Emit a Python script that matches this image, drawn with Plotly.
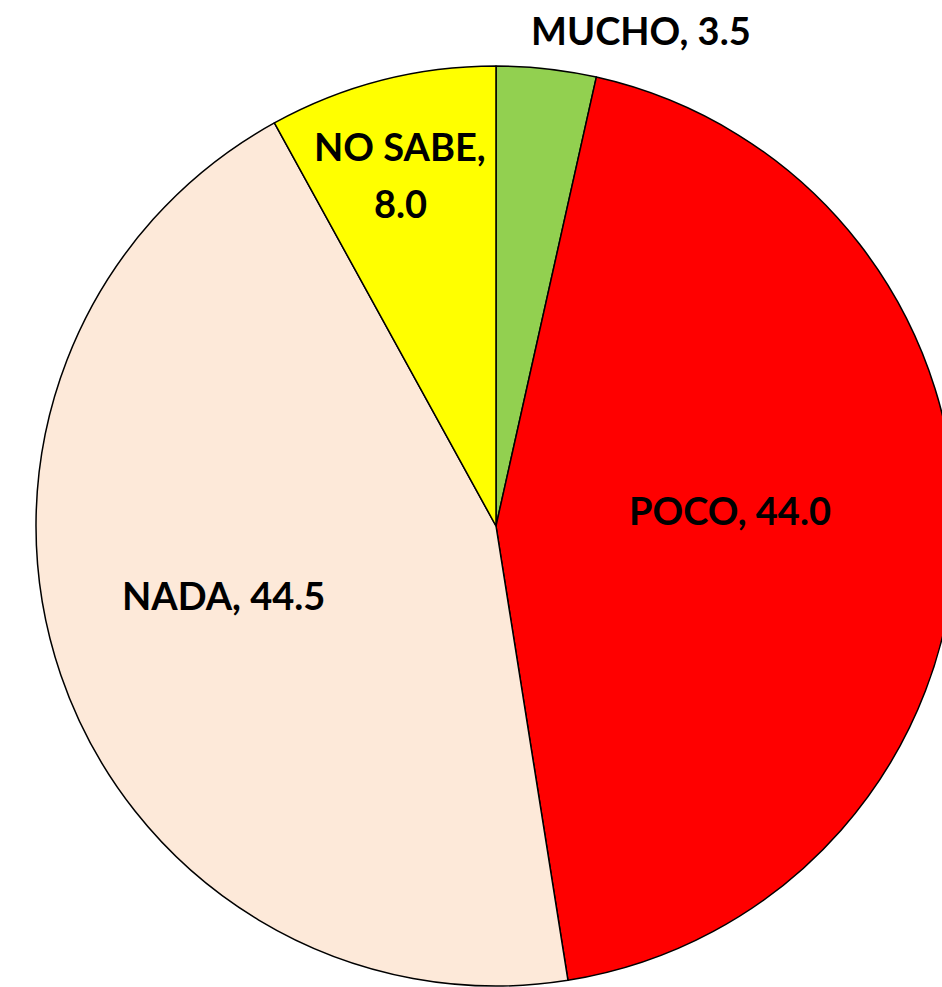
import plotly.graph_objects as go

# Datos
categorias = ["MUCHO", "POCO", "NADA", "NO SABE"]
valores = [3.5, 44.0, 44.5, 8.0]
textos = ["MUCHO, 3.5", "POCO, 44.0", "NADA, 44.5", "NO SABE,<br>8.0"]
colores = ["#92D050", "#FF0000", "#FDE9D9", "#FFFF00"]

# posiciones de las etiquetas (papel)
pos_etiquetas = [(0.6677, 0.9696), (0.7604, 0.4833), (0.2333, 0.3972), (0.4167, 0.8237)]
interlinea = 57

fig = go.Figure(go.Pie(
    labels=categorias,
    values=valores,
    textinfo="none",
    sort=False,
    direction="clockwise",
    rotation=0,
    marker=dict(colors=colores, line=dict(color="black", width=1.5)),
    domain=dict(x=[0.0375, 0.99583], y=[0.00101, 0.93313]),
    showlegend=False,
    hoverinfo="label+value",
))

# Etiquetas como anotaciones
for txt, (px_, py_) in zip(textos, pos_etiquetas):
    lineas = txt.split("<br>")
    n = len(lineas)
    for i, lin in enumerate(lineas):
        fig.add_annotation(
            x=px_, y=py_, xref="paper", yref="paper",
            text=lin, showarrow=False,
            xanchor="center", yanchor="middle",
            yshift=-(i - (n - 1) / 2) * interlinea,
            font=dict(family="Lato", size=38, color="black", weight="bold"),
        )

fig.update_layout(
    width=960, height=987,
    margin=dict(l=0, r=0, t=0, b=0),
    paper_bgcolor="white",
    plot_bgcolor="white",
)

# el gráfico queda recortado por la derecha, como en la imagen original
fig.write_html(
    "out.html",
    config={"displayModeBar": False},
    post_script="document.body.style.margin='0';document.body.style.overflow='hidden';",
)
